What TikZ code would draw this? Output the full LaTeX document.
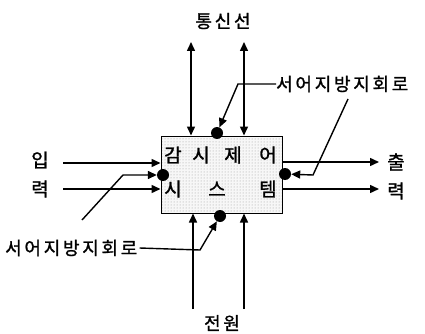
\documentclass[tikz,border=0pt]{standalone}
\usepackage{fontspec}
\newfontfamily\kr[LetterSpace=15,FakeBold=1.2]{Noto Sans CJK KR}
\newfontfamily\krb[FakeBold=1.2]{Noto Sans CJK KR}
\usetikzlibrary{arrows.meta,patterns}
\begin{document}
\begin{tikzpicture}[x=1pt,y=-1pt,
  tip/.tip={Triangle[length=9pt,width=8pt]},
  arr/.style={line width=1.5pt,-tip},
  dbl/.style={line width=1.5pt,tip-tip},
  lead/.style={line width=1.4pt,-tip},
  dot/.style={circle,fill=black,inner sep=0pt,minimum size=12pt},
  lbl/.style={font=\kr\fontsize{18}{20}\selectfont,inner sep=0pt},
  ch/.style={font=\krb\fontsize{19}{21}\selectfont,inner sep=0pt},
]
\useasboundingbox (0,0) rectangle (425,334);
% main box
\node[draw,line width=1pt,minimum width=121pt,minimum height=77pt,inner sep=0pt,
      preaction={fill=gray!6},pattern=dots,pattern color=gray!80] (box) at (221.5,174.5) {};
% text in box
\node[ch] (c1) at (173,155) {감};
\node[ch] (c2) at (201,155) {시};
\node[ch] (c3) at (233,155) {제};
\node[ch] (c4) at (268,155) {어};
\node[ch] (c5) at (173,189) {시};
\node[ch] (c6) at (217,189) {스};
\node[ch] (c7) at (268,189) {템};
% labels
\node[lbl] (tl) at (223,21) {통신선};
\node[lbl] (bl) at (222,323) {전원};
\node[ch] (in1) at (40,160) {입};
\node[ch] (in2) at (40,189) {력};
\node[ch] (out1) at (396,162) {출};
\node[ch] (out2) at (396,191) {력};
\node[lbl,anchor=west] (s1) at (276,84) {서어지방지회로};
\node[lbl,anchor=west] (s2) at (5,248) {서어지방지회로};
% coordinates
\coordinate (t1) at (191,42);
\coordinate (t2) at (244,42);
\coordinate (b1) at (193,309);
\coordinate (b2) at (244,309);
\coordinate (i1) at (63,163);
\coordinate (i2) at (63,189);
\coordinate (o1) at (379,162);
\coordinate (o2) at (379,189);
\coordinate (fr) at (348,99);
\coordinate (fl) at (82,220);
% arrows
\draw[dbl] (t1) -- (t1 |- box.north);
\draw[dbl] (t2) -- (t2 |- box.north);
\draw[arr] (b1) -- (b1 |- box.south);
\draw[arr] (b2) -- (b2 |- box.south);
\draw[arr] (i1) -- (i1 -| box.west);
\draw[arr] (i2) -- (i2 -| box.west);
\draw[arr] (o1 -| box.east) -- (o1);
\draw[arr] (o2 -| box.east) -- (o2);
% surge protection dots
\node[dot] (dt) at (217,133) {};
\node[dot] (dl) at (163,175) {};
\node[dot] (dr) at (285,174) {};
\node[dot] (db) at (220,216) {};
% leaders
\draw[lead] (s1.west) -- (238,84) -- (dt);
\draw[lead] (fr) -- (313,175) -- (dr);
\draw[lead] (fl) -- (123,175) -- (dl);
\draw[lead] (s2.east) ++(2,0) -- (200,250) -- (db);
\end{tikzpicture}
\end{document}
